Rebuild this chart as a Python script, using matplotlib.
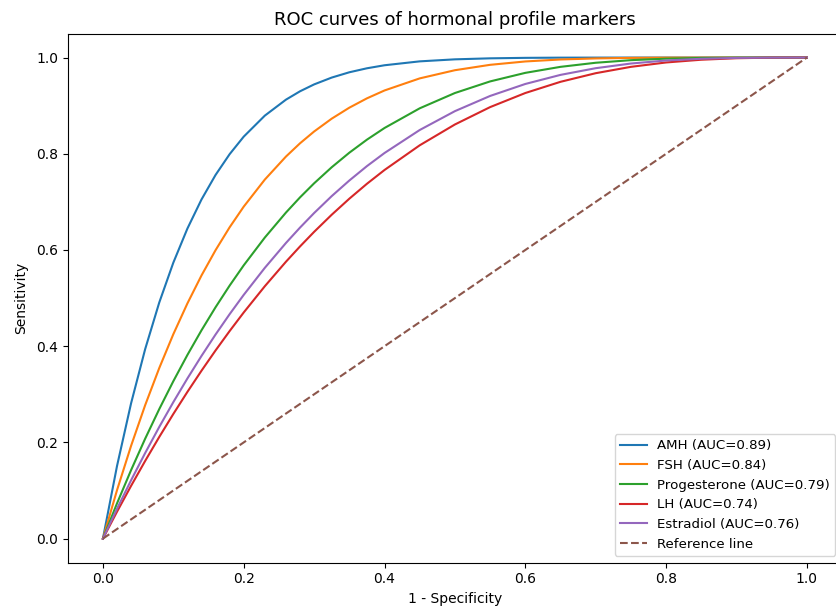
import matplotlib
matplotlib.use("Agg")
import matplotlib.pyplot as plt

# false positive rate grid
fpr = [0.00, 0.02, 0.04, 0.06, 0.08, 0.10, 0.12, 0.14, 0.16, 0.18, 0.20,
       0.23, 0.26, 0.28, 0.30, 0.325, 0.35, 0.375, 0.40, 0.45, 0.50, 0.55,
       0.60, 0.65, 0.70, 0.75, 0.80, 0.85, 0.90, 0.95, 1.00]

amh_tpr = [0.0, 0.1508, 0.2813, 0.3939, 0.4907, 0.5736, 0.6445, 0.7049,
           0.7560, 0.7992, 0.8356, 0.8793, 0.9125, 0.9299, 0.9442, 0.9584,
           0.9694, 0.9777, 0.9840, 0.9921, 0.9963, 0.9984, 0.9994, 0.9998,
           0.9999, 1.0, 1.0, 1.0, 1.0, 1.0, 1.0]
fsh_tpr = [0.0, 0.1006, 0.1929, 0.2774, 0.3545, 0.4249, 0.4889, 0.5470,
           0.5996, 0.6472, 0.6901, 0.7464, 0.7942, 0.8218, 0.8463, 0.8730,
           0.8958, 0.9152, 0.9316, 0.9567, 0.9737, 0.9849, 0.9919, 0.9960,
           0.9982, 0.9993, 0.9998, 1.0, 1.0, 1.0, 1.0]
prog_tpr = [0.0, 0.0732, 0.1424, 0.2077, 0.2692, 0.3272, 0.3818, 0.4330,
            0.4810, 0.5260, 0.5681, 0.6259, 0.6778, 0.7094, 0.7386, 0.7720,
            0.8022, 0.8293, 0.8536, 0.8945, 0.9263, 0.9504, 0.9682, 0.9807,
            0.9892, 0.9946, 0.9977, 0.9992, 0.9998, 1.0, 1.0]
lh_tpr = [0.0, 0.0559, 0.1097, 0.1615, 0.2113, 0.2591, 0.3050, 0.3490,
          0.3912, 0.4315, 0.4701, 0.5247, 0.5756, 0.6074, 0.6377, 0.6733,
          0.7066, 0.7376, 0.7663, 0.8176, 0.8609, 0.8970, 0.9263, 0.9496,
          0.9675, 0.9807, 0.9898, 0.9955, 0.9986, 0.9998, 1.0]
estr_tpr = [0.0, 0.0620, 0.1213, 0.1779, 0.2321, 0.2837, 0.3329, 0.3797,
            0.4243, 0.4666, 0.5067, 0.5629, 0.6146, 0.6466, 0.6768, 0.7120,
            0.7444, 0.7743, 0.8016, 0.8494, 0.8886, 0.9202, 0.9451, 0.9640,
            0.9779, 0.9876, 0.9939, 0.9975, 0.9993, 0.9999, 1.0]

markers = ["AMH", "FSH", "Progesterone", "LH", "Estradiol"]
auc = [0.89, 0.84, 0.79, 0.74, 0.76]
curves = [amh_tpr, fsh_tpr, prog_tpr, lh_tpr, estr_tpr]

fig = plt.figure(figsize=(8.36, 6.07), dpi=100)
# the reference is cropped: right spine sits just past the right edge
ax = fig.add_axes([0.081, 0.073, 0.9263, 0.8718])

for name, a, tpr in zip(markers, auc, curves):
    ax.plot(fpr, tpr, label=f"{name} (AUC={a:.2f})")

ax.plot([0, 1], [0, 1], linestyle="--", label="Reference line")

ax.set_title("ROC curves of hormonal profile markers", fontsize=13)
ax.set_xlabel("1 - Specificity")
ax.set_ylabel("Sensitivity", labelpad=6)
ax.legend(loc="lower right", fontsize=9.6)

fig.savefig("out.png", dpi=100)
